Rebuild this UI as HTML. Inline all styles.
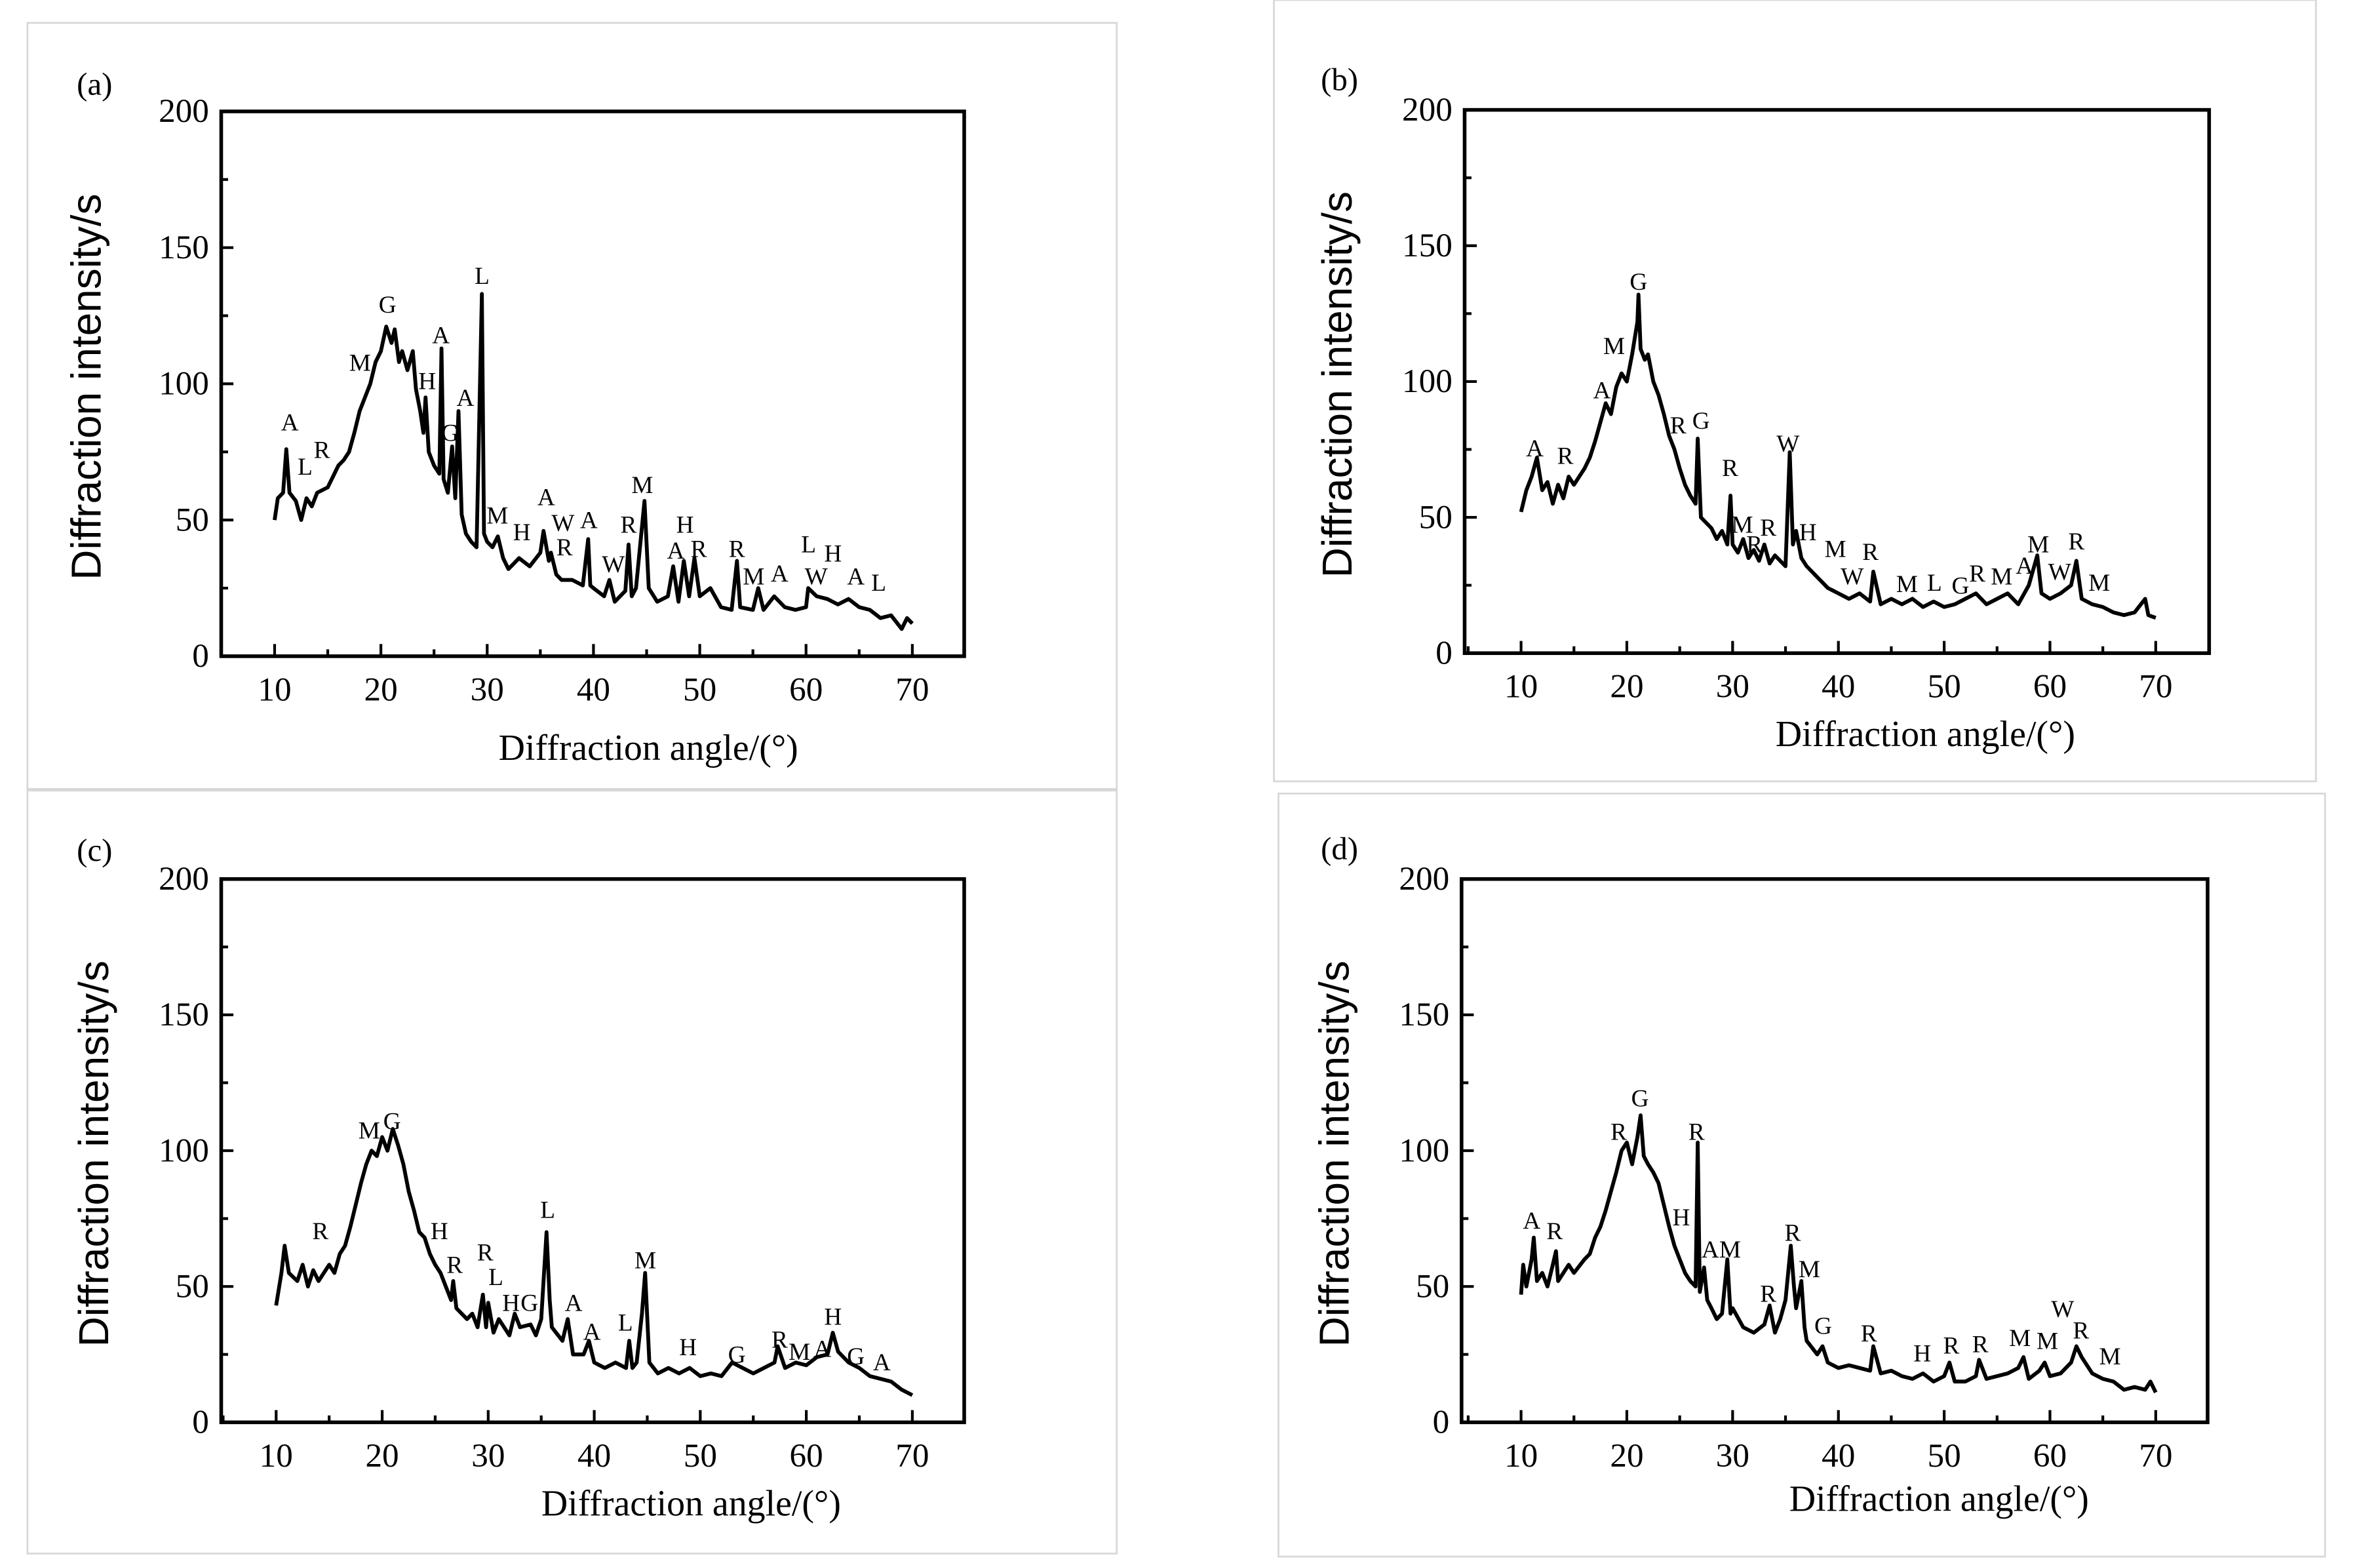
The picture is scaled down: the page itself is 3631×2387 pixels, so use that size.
<!DOCTYPE html>
<html><head><meta charset="utf-8"><style>
html,body{margin:0;padding:0;background:#fff;}
svg{display:block;}
</style></head><body>
<svg id="fig" width="3631" height="2387" viewBox="0 0 1560 1025.5" preserveAspectRatio="none" xmlns="http://www.w3.org/2000/svg">
<rect x="0" y="0" width="1560" height="1025.5" fill="#fff"/>
<g stroke="#d8d8d8" stroke-width="1.2" fill="none">
<rect x="18" y="15" width="714" height="502"/>
<rect x="835" y="0" width="683" height="512"/>
<rect x="18" y="518" width="714" height="500"/>
<rect x="838" y="520" width="686" height="500"/>
</g>
</svg>
<script>
// ---- data: [angle, intensity] ----
const seriesA=[[10,50],[10.3,58],[10.8,60],[11.1,76],[11.4,60],[12,57],[12.5,50],[13,58],[13.5,55],[14,60],[15,62],[15.5,66],[16,70],[16.5,72],[17,75],[17.5,82],[18,90],[18.5,95],[19,100],[19.5,108],[20,112],[20.5,121],[21,115],[21.3,120],[21.7,108],[22,112],[22.5,105],[23,112],[23.3,98],[23.7,90],[24,82],[24.2,95],[24.5,75],[25,70],[25.5,67],[25.7,113],[25.9,65],[26.3,60],[26.7,77],[27,58],[27.3,90],[27.6,52],[28,45],[28.5,42],[29,40],[29.5,133],[29.7,45],[30,42],[30.5,40],[31,44],[31.5,36],[32,32],[33,36],[34,33],[35,38],[35.3,46],[35.8,35],[36,38],[36.5,30],[37,28],[38,28],[39,26],[39.5,43],[39.7,26],[40,25],[41,22],[41.5,28],[42,20],[43,24],[43.3,41],[43.6,22],[44,25],[44.5,45],[44.8,57],[45.2,25],[46,20],[47,22],[47.5,33],[48,20],[48.5,35],[49,22],[49.5,36],[50,22],[51,25],[52,18],[53,17],[53.5,35],[53.8,18],[55,17],[55.5,25],[56,17],[57,22],[58,18],[59,17],[60,18],[60.2,25],[61,22],[62,21],[63,19],[64,21],[65,18],[66,17],[67,14],[68,15],[69,10],[69.5,14],[70,12]];
const seriesB=[[10,52],[10.5,60],[11,65],[11.5,72],[12,60],[12.5,63],[13,55],[13.5,62],[14,57],[14.5,65],[15,62],[16,68],[16.5,72],[17,78],[17.5,85],[18,92],[18.5,88],[19,98],[19.5,103],[20,100],[20.5,110],[21,122],[21.1,132],[21.3,112],[21.7,108],[22,110],[22.5,100],[23,95],[23.5,88],[24,80],[24.5,75],[25,68],[25.5,62],[26,58],[26.5,55],[26.7,79],[27,50],[27.5,48],[28,46],[28.5,42],[29,45],[29.5,40],[29.8,58],[30,40],[30.5,37],[31,42],[31.5,35],[32,38],[32.5,34],[33,40],[33.5,33],[34,36],[35,32],[35.4,74],[35.7,40],[36,45],[36.5,35],[37,32],[38,28],[39,24],[40,22],[41,20],[42,22],[43,19],[43.3,30],[44,18],[45,20],[46,18],[47,20],[48,17],[49,19],[50,17],[51,18],[52,20],[53,22],[54,18],[55,20],[56,22],[57,18],[58,25],[58.8,36],[59.2,22],[60,20],[61,22],[62,25],[62.5,34],[63,20],[64,18],[65,17],[66,15],[67,14],[68,15],[69,20],[69.3,14],[70,13]];
const seriesC=[[10,43],[10.5,55],[10.8,65],[11.2,55],[12,52],[12.5,58],[13,50],[13.5,56],[14,52],[15,58],[15.5,55],[16,62],[16.5,65],[17,72],[17.5,80],[18,88],[18.5,95],[19,100],[19.5,98],[20,105],[20.5,100],[21,108],[21.5,102],[22,95],[22.5,85],[23,78],[23.5,70],[24,68],[24.5,62],[25,58],[25.5,55],[26,50],[26.5,45],[26.7,52],[27,42],[28,38],[28.5,40],[29,35],[29.5,47],[29.8,35],[30,44],[30.5,33],[31,38],[32,32],[32.5,40],[33,35],[34,36],[34.5,32],[35,38],[35.5,70],[35.8,45],[36,35],[37,30],[37.5,38],[38,25],[39,25],[39.5,30],[40,22],[41,20],[42,22],[43,20],[43.3,30],[43.6,20],[44,22],[44.5,40],[44.8,55],[45.2,22],[46,18],[47,20],[48,18],[49,20],[50,17],[51,18],[52,17],[53,22],[54,20],[55,18],[56,20],[57,22],[57.3,28],[58,20],[59,22],[60,21],[61,24],[62,25],[62.5,33],[63,26],[64,22],[65,20],[66,17],[67,16],[68,15],[69,12],[70,10]];
const seriesD=[[10,47],[10.2,58],[10.5,50],[11,60],[11.2,68],[11.5,52],[12,55],[12.5,50],[13,58],[13.3,63],[13.5,52],[14,55],[14.5,58],[15,55],[16,60],[16.5,62],[17,68],[17.5,72],[18,78],[18.5,85],[19,92],[19.5,100],[20,103],[20.5,95],[21,105],[21.3,113],[21.6,98],[22,95],[22.5,92],[23,88],[23.5,80],[24,72],[24.5,65],[25,60],[25.5,55],[26,52],[26.5,50],[26.7,103],[26.9,48],[27.3,57],[27.6,45],[28,42],[28.5,38],[29,40],[29.5,60],[29.8,40],[30,42],[31,35],[32,33],[33,36],[33.5,43],[34,33],[34.5,38],[35,45],[35.5,65],[35.8,50],[36,42],[36.5,52],[36.8,35],[37,30],[38,25],[38.5,28],[39,22],[40,20],[41,21],[42,20],[43,19],[43.3,28],[44,18],[45,19],[46,17],[47,16],[48,18],[49,15],[50,17],[50.5,22],[51,15],[52,15],[53,17],[53.3,23],[54,16],[55,17],[56,18],[57,20],[57.5,24],[58,16],[59,19],[59.5,22],[60,17],[61,18],[62,22],[62.5,28],[63,24],[64,18],[65,16],[66,15],[67,12],[68,13],[69,12],[69.5,15],[70,11]];
const xTicks=[10,20,30,40,50,60,70];
const yTicks=[0,50,100,150,200];
// peak annotation labels (letter, display x, display y)
const labelsA=[["A",190,276],["L",200,305],["R",211,294],["M",236,237],["G",254,199],["H",280,249],["A",289,219],["G",295,283],["A",305,260],["L",316,180],["M",326,337],["H",342,348],["A",358,325],["W",369,342],["R",370,358],["A",386,340],["W",402,369],["R",412,343],["M",421,317],["A",443,360],["H",449,343],["R",458,359],["R",483,359],["M",494,377],["A",511,375],["L",530,356],["W",535,377],["H",546,362],["A",561,377],["L",576,381]];
const labelsB=[["A",1006,293],["R",1026,298],["A",1050,255],["M",1058,226],["G",1074,184],["R",1100,278],["G",1115,275],["R",1134,306],["M",1142,343],["R",1150,356],["R",1159,345],["W",1172,290],["H",1185,348],["M",1203,359],["W",1214,377],["R",1226,361],["M",1250,382],["L",1268,381],["G",1285,383],["R",1296,375],["M",1312,377],["A",1327,370],["M",1336,356],["W",1350,374],["R",1361,354],["M",1376,381]];
const labelsC=[["R",210,806],["M",242,740],["G",257,734],["H",288,806],["R",298,828],["R",318,820],["L",325,836],["H",335,853],["G",347,853],["L",359,792],["A",376,853],["A",388,872],["L",410,866],["M",423,825],["H",451,882],["G",483,887],["R",511,877],["M",524,885],["A",539,883],["H",546,862],["G",561,888],["A",578,892]];
const labelsD=[["A",1004,799],["R",1019,806],["R",1061,741],["G",1075,719],["H",1102,797],["R",1112,741],["A",1121,818],["M",1134,818],["R",1159,847],["R",1175,807],["M",1186,831],["G",1195,868],["R",1225,873],["H",1260,886],["R",1279,881],["R",1298,880],["M",1324,876],["M",1342,878],["W",1352,857],["R",1364,871],["M",1383,888]];

const NS="http://www.w3.org/2000/svg";
const svg=document.getElementById('fig');
function mk(tag,attrs,parent){const e=document.createElementNS(NS,tag);for(const k in attrs)e.setAttribute(k,attrs[k]);(parent||svg).appendChild(e);return e;}

const panels=[
 {id:'a',data:seriesA,labels:labelsA,L:145,R:632,T:73,B:430,x10:180,x70:598,tickR:137,ytx:66,xtx:425,xty:498,pid:[62,62]},
 {id:'b',data:seriesB,labels:labelsB,L:960,R:1448,T:72,B:428,x10:997,x70:1413,tickR:952,ytx:886,xtx:1262,xty:489,pid:[878,59]},
 {id:'c',data:seriesC,labels:labelsC,L:145,R:632,T:576,B:932,x10:181,x70:598,tickR:137,ytx:71,xtx:453,xty:993,pid:[62,564]},
 {id:'d',data:seriesD,labels:labelsD,L:958,R:1447,T:576,B:932,x10:997,x70:1413,tickR:950,ytx:884,xtx:1271,xty:990,pid:[878,563]}
];

panels.forEach(p=>{
 const g=mk('g',{});
 
 
 const xs=v=>p.x10+(v-10)*(p.x70-p.x10)/60;
 const ys=v=>p.B-v*(p.B-p.T)/200;
 for(let v=5;v<=70;v+=5){
  const x=xs(v);const len=(v%10===0)?8:4.5;
  const t=mk('line',{x1:x,x2:x,y1:p.B,y2:p.B-len,stroke:'#000','stroke-width':1.8},g);
  
  
 }
 for(let v=25;v<200;v+=25){
  const y=ys(v);const len=(v%50===0)?8:4.5;
  const t=mk('line',{x1:p.L,x2:p.L+len,y1:y,y2:y,stroke:'#000','stroke-width':1.8},g);
  
  
 }
 xTicks.forEach(v=>{
  const t=mk('text',{x:xs(v),y:p.B+29,'font-family':'Liberation Serif, serif','font-size':22,'text-anchor':'middle'},g);
  t.textContent=v;
  
  
 });
 yTicks.forEach(v=>{
  const t=mk('text',{x:p.tickR,y:ys(v)+7,'font-family':'Liberation Serif, serif','font-size':22,'text-anchor':'end'},g);
  t.textContent=v;
  
  
 });
 const d=p.data.map((pt,i)=>(i?'L':'M')+xs(pt[0]).toFixed(2)+','+ys(pt[1]).toFixed(2)).join(' ');
 const path=mk('path',{d:d,fill:'none',stroke:'#000','stroke-width':2.5,'stroke-linejoin':'round'},g);
 
 
 const fr=mk('rect',{x:p.L,y:p.T,width:p.R-p.L,height:p.B-p.T,fill:'none',stroke:'#000','stroke-width':2.4},g);
 
 
 p.labels.forEach(l=>{
  const t=mk('text',{x:l[1],y:l[2]+6,'font-family':'Liberation Serif, serif','font-size':16,'text-anchor':'middle'},g);
  t.textContent=l[0];
  
  
 });
 const cy=(p.T+p.B)/2+2;
 const yt=mk('text',{x:p.ytx,y:cy,'font-family':'Liberation Sans, sans-serif','font-size':27.5,'text-anchor':'middle',transform:'rotate(-90 '+p.ytx+' '+cy+')'},g);
 yt.textContent='Diffraction intensity/s';
 
 
 const xt=mk('text',{x:p.xtx,y:p.xty,'font-family':'Liberation Serif, serif','font-size':24,'text-anchor':'middle'},g);
 xt.textContent='Diffraction angle/(°)';
 
 
 const pl=mk('text',{x:p.pid[0],y:p.pid[1],'font-family':'Liberation Serif, serif','font-size':21,'text-anchor':'middle'},g);
 pl.textContent='('+p.id+')';
 
 
});
</script>
</body></html>
